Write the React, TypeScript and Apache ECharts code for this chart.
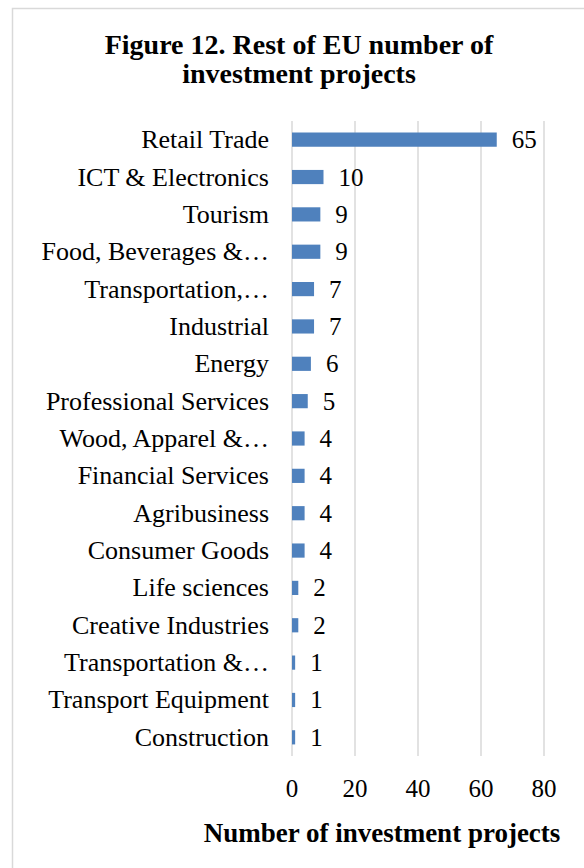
import React, { useEffect, useRef } from "react";
import * as echarts from "echarts";

const categories = [
  "Retail Trade",
  "ICT & Electronics",
  "Tourism",
  "Food, Beverages &…",
  "Transportation,…",
  "Industrial",
  "Energy",
  "Professional Services",
  "Wood, Apparel &…",
  "Financial Services",
  "Agribusiness",
  "Consumer Goods",
  "Life sciences",
  "Creative Industries",
  "Transportation &…",
  "Transport Equipment",
  "Construction",
];
const values = [65, 10, 9, 9, 7, 7, 6, 5, 4, 4, 4, 4, 2, 2, 1, 1, 1];
const xTicks = [0, 20, 40, 60, 80];

const titleText = "Figure 12. Rest of EU number of\ninvestment projects";
const xAxisTitle = "Number of investment projects";

const FONT = "'Liberation Serif', 'DejaVu Serif', serif";

export default function App() {
  const ref = useRef<HTMLDivElement>(null);
  useEffect(() => {
    if (!ref.current) return;
    const chart = echarts.init(ref.current, undefined, { renderer: "svg" });
    chart.setOption({
      animation: false,
      backgroundColor: "#ffffff",
      title: {
        text: titleText,
        left: 294,
        top: 25,
        textAlign: "center",
        textStyle: {
          fontFamily: FONT,
          fontWeight: "bold",
          fontSize: 28,
          lineHeight: 29,
          color: "#000000",
        },
      },
      graphic: [
        {
          type: "rect",
          shape: { x: 12.5, y: 8.5, width: 620, height: 900 },
          style: { fill: "none", stroke: "#d9d9d9", lineWidth: 1.5 },
          silent: true,
          z: -1,
        },
      ],
      grid: {
        left: 292,
        right: 40,
        top: 121,
        bottom: 112,
        containLabel: false,
        outerBoundsMode: "none",
      },
      xAxis: {
        type: "value",
        min: xTicks[0],
        max: xTicks[xTicks.length - 1],
        interval: 20,
        name: xAxisTitle,
        nameLocation: "middle",
        nameGap: 63,
        nameTextStyle: {
          fontFamily: FONT,
          fontWeight: "bold",
          fontSize: 27,
          color: "#000000",
          padding: [0, 72, 0, 0],
        },
        axisLine: { show: false },
        axisTick: { show: false },
        axisLabel: {
          fontFamily: FONT,
          fontSize: 25,
          color: "#000000",
          margin: 20,
        },
        splitLine: { show: true, lineStyle: { color: "#d9d9d9", width: 1.5 } },
      },
      yAxis: {
        type: "category",
        data: categories,
        inverse: true,
        axisLine: { show: false },
        axisTick: { show: false },
        axisLabel: {
          fontFamily: FONT,
          fontSize: 26,
          color: "#000000",
          margin: 23,
        },
      },
      series: [
        {
          type: "bar",
          data: values,
          barCategoryGap: "62%",
          itemStyle: { color: "#4f81bd" },
          label: {
            show: true,
            position: "right",
            distance: 15,
            fontFamily: FONT,
            fontSize: 25,
            color: "#000000",
          },
        },
      ],
    });
    return () => chart.dispose();
  }, []);
  return (
    <div
      ref={ref}
      style={{ position: "absolute", left: 0, top: 0, width: 584, height: 868 }}
    />
  );
}
